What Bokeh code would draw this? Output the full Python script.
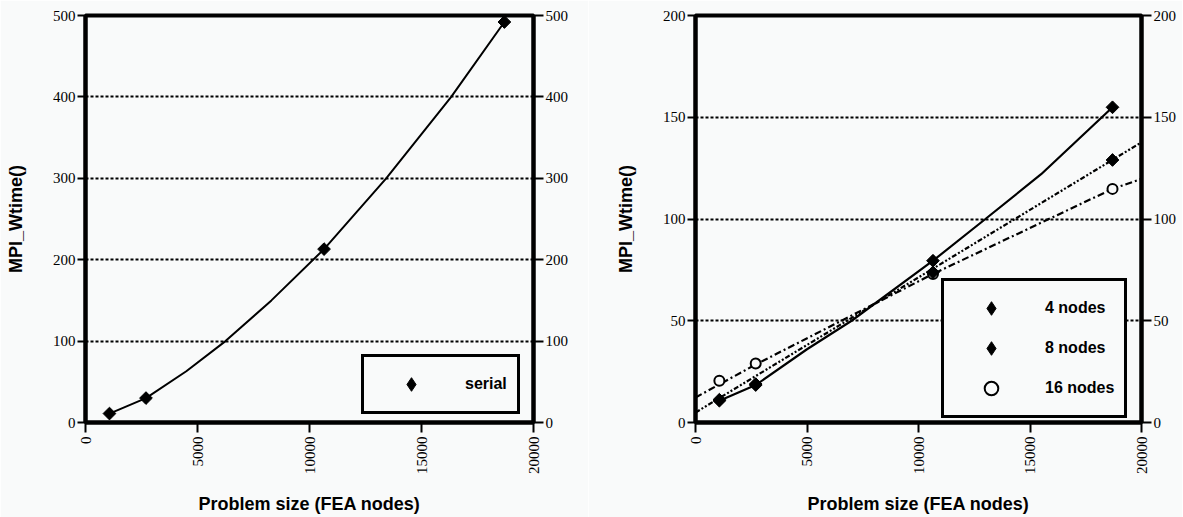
import math
from bokeh.plotting import figure
from bokeh.layouts import row
from bokeh.models import Range1d, LinearAxis, FixedTicker, Legend, LegendItem
from bokeh.embed import file_html
from bokeh.resources import INLINE

# ---------------- data ----------------
sizes = [1070, 2700, 10650, 18700]
serial = [11, 30, 213, 492]
serial_curve_x = [1070, 2700, 4500, 6250, 8300, 10650, 13424, 16326, 18700]
serial_curve_y = [11, 30, 63, 100, 150, 213, 300, 400, 492]

nodes4 = [10.7, 18.4, 79.5, 154.9]
nodes8 = [11.2, 18.9, 73.8, 129.0]
nodes16 = [20.5, 29.0, 73.0, 114.8]
nodes4_curve_x = [1070, 2700, 5000, 7000, 10650, 13000, 15500, 18700]
nodes4_curve_y = [10.7, 18.4, 36, 50, 79.5, 100, 122, 154.9]
fit8_x = [0, 20000]
fit8_y = [4.9, 137.7]
fit16_x = [0, 2700, 10650, 18700, 20000]
fit16_y = [12.3, 28.5, 73, 114.8, 119.7]

x_ticks = [0, 5000, 10000, 15000, 20000]
y_ticks_left = [0, 100, 200, 300, 400, 500]
y_ticks_right = [0, 50, 100, 150, 200]

x_label = "Problem size (FEA nodes)"
y_label = "MPI_Wtime()"

BG = "#f9fafa"
TICK_FONT = "Liberation Serif"
LABEL_FONT = "Liberation Sans"


def style_axis(ax, ticks, tick_out, label_standoff):
    ax.ticker = FixedTicker(ticks=ticks)
    ax.axis_line_color = "black"
    ax.axis_line_alpha = 1
    ax.axis_line_width = 4
    ax.major_tick_line_color = "black"
    ax.major_tick_line_width = 2
    ax.major_tick_out = tick_out
    ax.major_tick_in = 0
    ax.minor_tick_line_color = None
    ax.major_label_text_font = TICK_FONT
    ax.major_label_text_font_size = "15px"
    ax.major_label_text_color = "black"
    ax.major_label_standoff = label_standoff
    ax.axis_label_text_font = LABEL_FONT
    ax.axis_label_text_font_style = "bold"
    ax.axis_label_text_font_size = "18px"
    ax.axis_label_text_color = "black"


def make_fig(frame_w, ymax, yticks, left_border, right_border):
    p = figure(frame_width=frame_w, frame_height=407,
               x_range=Range1d(0, 20000), y_range=Range1d(0, ymax),
               output_backend="svg", toolbar_location=None,
               min_border_left=left_border, min_border_right=right_border,
               min_border_top=15, min_border_bottom=94,
               background_fill_color=BG, border_fill_color=BG)
    p.outline_line_color = "black"
    p.outline_line_alpha = 1
    p.outline_line_width = 4
    p.xgrid.visible = False
    p.ygrid.grid_line_color = "black"
    p.ygrid.grid_line_alpha = 1
    p.ygrid.grid_line_dash = "3 2"
    p.ygrid.grid_line_width = 2

    style_axis(p.xaxis[0], x_ticks, 10, 4)
    p.xaxis[0].major_label_orientation = math.pi / 2
    p.xaxis[0].axis_label = x_label
    p.xaxis[0].axis_label_standoff = 17

    style_axis(p.yaxis[0], yticks, 8, 2)
    p.yaxis[0].axis_label = y_label
    p.yaxis[0].axis_label_standoff = 24

    right = LinearAxis()
    style_axis(right, yticks, 10, 2)
    p.add_layout(right, "right")
    p.ygrid.ticker = FixedTicker(ticks=yticks)
    return p


def style_legend(leg, loc):
    leg.location = loc
    leg.margin = 0
    leg.padding = 10
    leg.spacing = 6
    leg.glyph_width = 74
    leg.glyph_height = 34
    leg.label_height = 34
    leg.label_standoff = 17
    leg.border_line_color = "black"
    leg.border_line_alpha = 1
    leg.border_line_width = 3
    leg.background_fill_color = BG
    leg.background_fill_alpha = 1
    leg.label_text_font = LABEL_FONT
    leg.label_text_font_style = "bold"
    leg.label_text_font_size = "16px"
    leg.label_text_color = "black"


def diamonds(p, x, y):
    # diamond renderer (used by the legend) covered by a rotated square
    r = p.scatter(x, y, marker="diamond", size=11, fill_color="black",
                  line_color="black")
    p.scatter(x, y, marker="square", angle=math.pi / 4, size=9,
              fill_color="black", line_color="black")
    return r


# ---------------- left: serial ----------------
p1 = make_fig(448, 500, y_ticks_left, 85, 55)
p1.line(serial_curve_x, serial_curve_y, line_color="black", line_width=2)
r_serial = diamonds(p1, sizes, serial)
leg1 = Legend(items=[LegendItem(label="serial", renderers=[r_serial])])
style_legend(leg1, (276, 8))
p1.add_layout(leg1, "center")

# ---------------- right: parallel ----------------
p2 = make_fig(446, 200, y_ticks_right, 107, 41)
p2.line(nodes4_curve_x, nodes4_curve_y, line_color="black", line_width=2.2)
p2.line(fit8_x, fit8_y, line_color="black", line_width=2.2, line_dash="5 2 2 2 2 2")
p2.line(fit16_x, fit16_y, line_color="black", line_width=2.2, line_dash="7 3 2 3")
r16 = p2.scatter(sizes, nodes16, marker="circle", size=10, fill_color=BG,
                 line_color="black", line_width=2)
r4 = diamonds(p2, sizes, nodes4)
r8 = diamonds(p2, sizes, nodes8)
leg2 = Legend(items=[LegendItem(label="4 nodes", renderers=[r4]),
                     LegendItem(label="8 nodes", renderers=[r8]),
                     LegendItem(label="16 nodes", renderers=[r16])])
style_legend(leg2, (246, 4))
p2.add_layout(leg2, "center")

layout = row(p1, p2)
html = file_html(layout, INLINE)
html = html.replace("<body>", '<body style="background-color: %s;">' % BG, 1)
open("out.html", "w").write(html)
